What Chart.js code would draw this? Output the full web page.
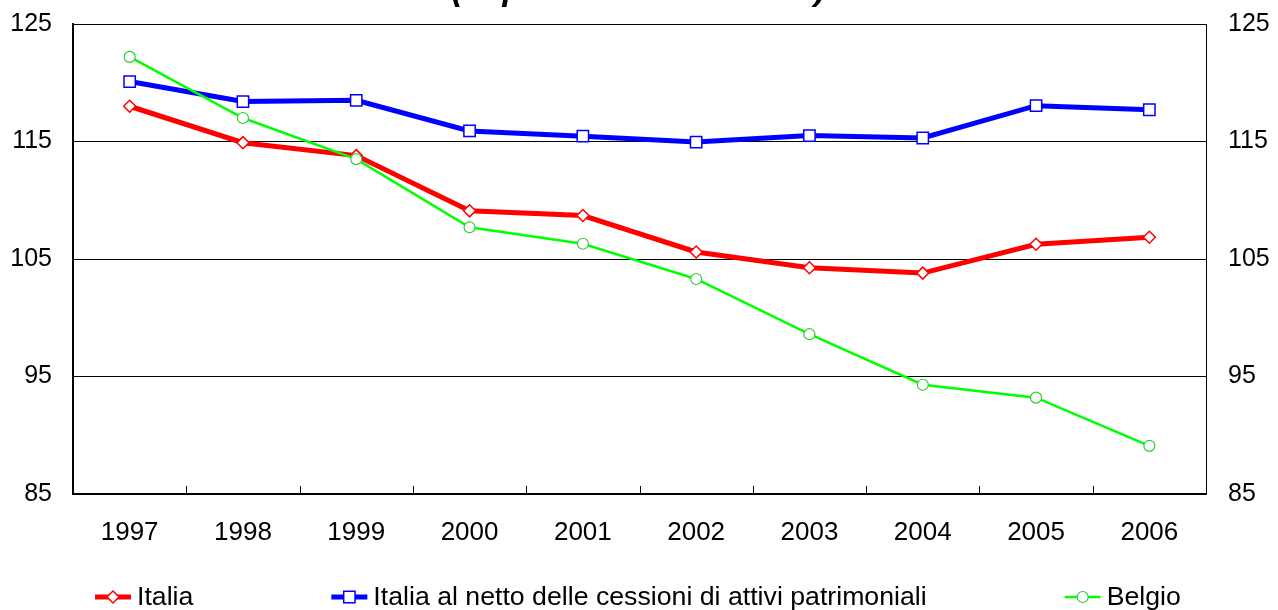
<!DOCTYPE html>
<html lang="it">
<head>
<meta charset="utf-8">
<script src="https://cdn.jsdelivr.net/npm/chart.js@4.4.1/dist/chart.umd.min.js"></script>
<style>
  html, body { margin: 0; padding: 0; background: #ffffff; }
  #wrap { width: 1278px; height: 610px; position: relative; }
</style>
</head>
<body>
<div id="wrap"><canvas id="c" width="1278" height="610"></canvas></div>
<script>
// Anni
const years = ['1997', '1998', '1999', '2000', '2001', '2002', '2003', '2004', '2005', '2006'];
// Serie (in percentuale del PIL)
const italia = [118.0, 114.9, 113.8, 109.1, 108.7, 105.6, 104.25, 103.8, 106.25, 106.85];
const italiaNetto = [120.1, 118.4, 118.5, 115.9, 115.45, 114.95, 115.5, 115.3, 118.05, 117.7];
const belgio = [122.2, 117.0, 113.5, 107.7, 106.3, 103.3, 98.6, 94.3, 93.2, 89.1];
// Etichette
const seriesNames = ['Italia', 'Italia al netto delle cessioni di attivi patrimoniali', 'Belgio'];
const titleText = '(in percentuale del PIL)';
const yMin = 85, yMax = 125, yStep = 10;

const FONT = '"Liberation Sans", Arial, sans-serif';

// Titolo (la riga sporge oltre il bordo superiore)
const titlePlugin = {
  id: 'titleLine',
  afterDraw(chart) {
    const ctx = chart.ctx;
    const area = chart.chartArea;
    ctx.save();
    ctx.font = 'italic bold 34px ' + FONT;
    ctx.fillStyle = '#000';
    ctx.textAlign = 'center';
    ctx.textBaseline = 'alphabetic';
    ctx.fillText(titleText, (area.left + area.right) / 2 - 1, 0);
    ctx.restore();
  }
};

// Tacche interne dell'asse delle categorie, tra un anno e l'altro
const innerTicks = {
  id: 'innerTicks',
  afterDatasetsDraw(chart) {
    const x = chart.scales.x;
    const bottom = chart.chartArea.bottom;
    const ctx = chart.ctx;
    ctx.save();
    ctx.strokeStyle = '#000';
    ctx.lineWidth = 1;
    for (let i = 1; i < years.length; i++) {
      const px = Math.round((x.getPixelForValue(i - 1) + x.getPixelForValue(i)) / 2) + 0.5;
      ctx.beginPath();
      ctx.moveTo(px, bottom);
      ctx.lineTo(px, bottom - 8);
      ctx.stroke();
    }
    ctx.restore();
  }
};

function drawMarker(ctx, style, r, x, y) {
  if (style === 'rect') {
    const s = Math.SQRT1_2 * r;
    ctx.rect(x - s, y - s, 2 * s, 2 * s);
  } else if (style === 'rectRot') {
    ctx.moveTo(x, y - r);
    ctx.lineTo(x + r, y);
    ctx.lineTo(x, y + r);
    ctx.lineTo(x - r, y);
    ctx.closePath();
  } else {
    ctx.arc(x, y, r, 0, Math.PI * 2);
  }
}

// Legenda: segmento con marcatore al centro e testo
const lineLegend = {
  id: 'lineLegend',
  afterDraw(chart) {
    const ctx = chart.ctx;
    const y = 597;
    const seg = 36, gapText = 6, gapItem = 138;
    let x = 95;
    ctx.save();
    ctx.font = '26.7px ' + FONT;
    ctx.textBaseline = 'middle';
    ctx.textAlign = 'left';
    chart.data.datasets.forEach((ds) => {
      ctx.strokeStyle = ds.borderColor;
      ctx.lineWidth = ds.borderWidth;
      ctx.beginPath();
      ctx.moveTo(x, y);
      ctx.lineTo(x + seg, y);
      ctx.stroke();
      ctx.fillStyle = ds.pointBackgroundColor;
      ctx.strokeStyle = ds.pointBorderColor;
      ctx.lineWidth = ds.pointBorderWidth;
      ctx.beginPath();
      drawMarker(ctx, ds.pointStyle, ds.pointRadius, x + seg / 2, y);
      ctx.fill();
      ctx.stroke();
      ctx.fillStyle = '#000';
      ctx.fillText(ds.label, x + seg + gapText, y + 1);
      x += seg + gapText + ctx.measureText(ds.label).width + gapItem;
    });
    ctx.restore();
  }
};

const yTicks = {
  color: '#000',
  font: { family: FONT, size: 25 },
  stepSize: yStep
};

// Le etichette estreme dell'asse y non riducono l'area del grafico
function fitY(width) {
  return function (scale) {
    scale.width = width;
    scale.paddingTop = 0;
    scale.paddingBottom = 0;
  };
}

new Chart(document.getElementById('c'), {
  type: 'line',
  data: {
    labels: years,
    datasets: [
      {
        label: seriesNames[0],
        data: italia,
        borderColor: '#ff0000',
        borderWidth: 5,
        pointStyle: 'rectRot',
        pointRadius: 6,
        pointBorderWidth: 1.5,
        pointBackgroundColor: '#ffffff',
        pointBorderColor: '#ff0000',
        tension: 0,
        order: 3
      },
      {
        label: seriesNames[1],
        data: italiaNetto,
        borderColor: '#0000ff',
        borderWidth: 5,
        pointStyle: 'rect',
        pointRadius: 8,
        pointBorderWidth: 1.5,
        pointBackgroundColor: '#ffffff',
        pointBorderColor: '#0000ff',
        tension: 0,
        order: 2
      },
      {
        label: seriesNames[2],
        data: belgio,
        borderColor: '#00ff00',
        borderWidth: 2.5,
        pointStyle: 'circle',
        pointRadius: 5.5,
        pointBorderWidth: 1.2,
        pointBackgroundColor: '#ffffff',
        pointBorderColor: '#33cc33',
        tension: 0,
        order: 1
      }
    ]
  },
  options: {
    responsive: false,
    animation: false,
    events: [],
    layout: { padding: { top: 24, bottom: 70, left: 0, right: 0 } },
    plugins: {
      legend: { display: false },
      title: { display: false },
      tooltip: { enabled: false }
    },
    scales: {
      x: {
        type: 'category',
        offset: true,
        grid: { display: false, drawTicks: false },
        border: { display: true, color: '#000', width: 2 },
        ticks: { color: '#000', font: { family: FONT, size: 26 }, padding: 23, maxRotation: 0, autoSkip: false },
        afterFit(scale) { scale.height = 46; }
      },
      y: {
        position: 'left',
        min: yMin,
        max: yMax,
        grid: { color: '#000', lineWidth: 1, drawTicks: false },
        border: { display: true, color: '#000', width: 2 },
        ticks: Object.assign({ padding: 21 }, yTicks),
        afterFit: fitY(73)
      },
      y2: {
        position: 'right',
        min: yMin,
        max: yMax,
        grid: { drawOnChartArea: false, drawTicks: false },
        border: { display: true, color: '#000', width: 1 },
        ticks: Object.assign({ padding: 22 }, yTicks),
        afterFit: fitY(72)
      }
    }
  },
  plugins: [titlePlugin, innerTicks, lineLegend]
});
</script>
</body>
</html>
